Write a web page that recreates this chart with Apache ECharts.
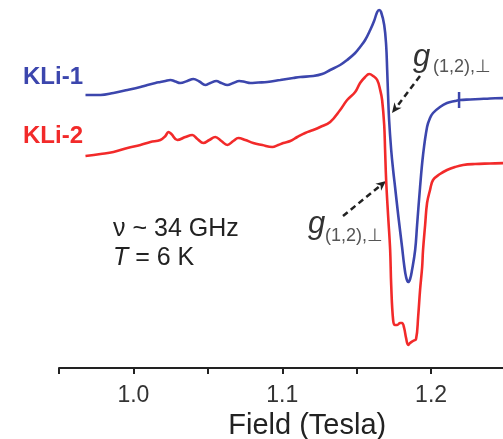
<!DOCTYPE html>
<html><head><meta charset="utf-8">
<script src="https://cdn.jsdelivr.net/npm/echarts@6/dist/echarts.min.js"></script>
<style>html,body{margin:0;padding:0;background:#fff}#c{width:503px;height:439px}</style>
</head><body><div id="c"></div>
<script>
// Field in Tesla, signal in arbitrary units (offset traces)
const blueField = [0.9678,0.9779,0.9866,0.9960,1.0047,1.0094,1.0148,1.0181,1.0215,1.0248,1.0282,1.0315,1.0362,1.0403,1.0443,1.0483,1.0517,1.0557,1.0591,1.0631,1.0671,1.0711,1.0752,1.0785,1.0839,1.0899,1.0987,1.1074,1.1121,1.1208,1.1268,1.1322,1.1389,1.1436,1.1490,1.1523,1.1557,1.1591,1.1617,1.1638,1.1651,1.1664,1.1685,1.1698,1.1705,1.1711,1.1718,1.1732,1.1745,1.1758,1.1779,1.1805,1.1819,1.1832,1.1846,1.1859,1.1872,1.1893,1.1906,1.1926,1.1946,1.1973,1.1993,1.2013,1.2060,1.2107,1.2161,1.2195,1.2262,1.2329,1.2396,1.2500];
const blueSignal = [2.73,2.73,2.75,2.78,2.81,2.83,2.85,2.86,2.87,2.88,2.865,2.85,2.87,2.89,2.865,2.83,2.85,2.87,2.85,2.83,2.85,2.87,2.86,2.85,2.855,2.86,2.88,2.90,2.91,2.92,2.94,2.98,3.03,3.08,3.15,3.21,3.28,3.38,3.47,3.56,3.58,3.56,3.43,3.23,2.98,2.73,2.48,2.18,1.98,1.81,1.53,1.21,1.03,0.91,0.86,0.89,0.98,1.18,1.43,1.81,2.13,2.41,2.50,2.55,2.61,2.65,2.67,2.68,2.685,2.69,2.695,2.70];
const redField = [0.9678,0.9779,0.9866,0.9960,1.0047,1.0114,1.0181,1.0215,1.0235,1.0255,1.0295,1.0349,1.0396,1.0430,1.0470,1.0510,1.0550,1.0591,1.0631,1.0671,1.0705,1.0752,1.0805,1.0866,1.0933,1.0973,1.1007,1.1054,1.1101,1.1154,1.1208,1.1255,1.1322,1.1389,1.1436,1.1490,1.1523,1.1557,1.1584,1.1611,1.1638,1.1658,1.1671,1.1685,1.1691,1.1698,1.1711,1.1725,1.1732,1.1745,1.1758,1.1772,1.1792,1.1805,1.1819,1.1832,1.1846,1.1859,1.1879,1.1899,1.1913,1.1926,1.1940,1.1946,1.1960,1.1973,1.1993,1.2013,1.2060,1.2107,1.2161,1.2215,1.2295,1.2396,1.2500];
const redSignal = [2.12,2.14,2.16,2.20,2.23,2.26,2.28,2.32,2.36,2.34,2.28,2.31,2.33,2.29,2.25,2.28,2.31,2.27,2.23,2.27,2.30,2.28,2.25,2.23,2.21,2.23,2.25,2.27,2.31,2.35,2.38,2.41,2.46,2.58,2.68,2.76,2.85,2.91,2.94,2.92,2.88,2.78,2.68,2.43,2.18,1.88,1.53,1.18,0.83,0.48,0.43,0.43,0.45,0.45,0.40,0.30,0.23,0.25,0.27,0.29,0.51,0.78,1.01,1.18,1.43,1.65,1.78,1.88,1.94,1.98,2.01,2.03,2.04,2.045,2.05];
const xTickLabels = [1.0, 1.1, 1.2];
const blueMark = [1.2188, 2.68];
const seriesNames = ['KLi-1', 'KLi-2'];
const axisTitle = 'Field (Tesla)';

const BLUE = '#3c46ad', RED = '#f22a2a', INK = '#222';
const FONT = 'Arial, "Liberation Sans", sans-serif';

function pairs(xs, ys){ return xs.map((x,i)=>[x, ys[i]]); }
function arrowEls(x1,y1,x2,y2){
  const dx=x2-x1, dy=y2-y1, L=Math.hypot(dx,dy), ux=dx/L, uy=dy/L;
  const hl=10, hw=4.5, bx=x2-ux*hl, by=y2-uy*hl;
  return [
    {type:'line', shape:{x1:x1,y1:y1,x2:bx+ux*2,y2:by+uy*2}, style:{stroke:INK,lineWidth:2.5,lineDash:[6,4]}},
    {type:'polygon', shape:{points:[[x2,y2],[bx-uy*hw,by+ux*hw],[bx+ux*3,by+uy*3],[bx+uy*hw,by-ux*hw]]}, style:{fill:INK}}
  ];
}
function txt(x,y,text,font,fill){
  return {type:'text', x:x, y:y, style:{text:text, font:font, fill:fill, textAlign:'left', textVerticalAlign:'middle'}};
}

const chart = echarts.init(document.getElementById('c'), null, {renderer:'canvas'});
chart.setOption({
  animation:false,
  backgroundColor:'#fff',
  grid:{left:59, width:446.5, top:0, height:368, containLabel:false, outerBoundsMode:'none'},
  xAxis:{
    type:'value', min:0.95, max:1.25, interval:0.05,
    name:axisTitle, nameLocation:'middle', nameGap:42,
    nameTextStyle:{fontSize:29, color:INK, fontFamily:FONT, padding:[0,0,0,50]},
    axisLine:{lineStyle:{color:INK,width:2}},
    axisTick:{show:true, length:6, lineStyle:{color:INK,width:2}},
    splitLine:{show:false},
    axisLabel:{fontSize:23, color:'#333', fontFamily:FONT, margin:16,
      showMinLabel:true, showMaxLabel:true,
      formatter:function(v){ return xTickLabels.some(t=>Math.abs(t-v)<1e-6) ? v.toFixed(1) : ''; }}
  },
  yAxis:{type:'value', show:false, min:0, max:3.68},
  series:[
    {name:seriesNames[0], type:'line', data:pairs(blueField,blueSignal), showSymbol:false, smooth:0.4,
     lineStyle:{color:BLUE,width:2.6}, itemStyle:{color:BLUE}, silent:true,
     markPoint:{symbol:'rect', symbolSize:[2.5,16], label:{show:false}, itemStyle:{color:BLUE},
       data:[{coord:blueMark}]}},
    {name:seriesNames[1], type:'line', data:pairs(redField,redSignal), showSymbol:false, smooth:0.4,
     lineStyle:{color:RED,width:2.6}, itemStyle:{color:RED}, silent:true}
  ],
  graphic:[].concat(
    [
      txt(23,77,seriesNames[0],'bold 24px '+FONT,BLUE),
      txt(23,136,seriesNames[1],'bold 24px '+FONT,RED),
      txt(113,229,'\u03bd ~ 34 GHz','25px '+FONT,INK),
      {type:'text', x:113, y:258, style:{text:'{i|T} = 6 K', font:'25px '+FONT, fill:INK, textVerticalAlign:'middle',
        rich:{i:{fontStyle:'italic', fontSize:25, fontFamily:FONT, fill:INK}}}},
      txt(413,57,'g','italic 31px '+FONT,'#333'),
      txt(433,67,'(1,2),\u22a5','18px '+FONT,'#555'),
      txt(308,224,'g','italic 31px '+FONT,'#333'),
      txt(325,236,'(1,2),\u22a5','18px '+FONT,'#555')
    ],
    arrowEls(420,76,392,113),
    arrowEls(343,216,386,181)
  )
});
</script>
</body></html>
